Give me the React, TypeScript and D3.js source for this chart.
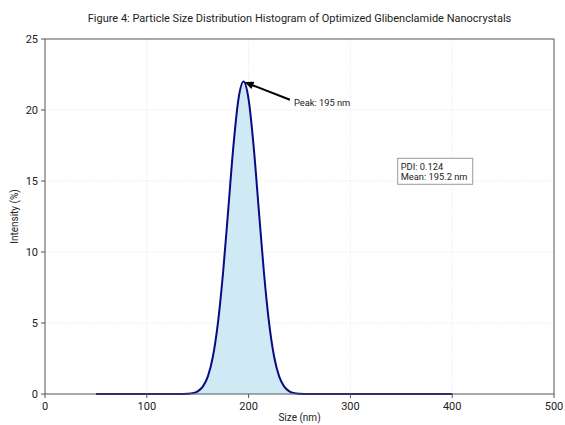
import React from "react";
import * as d3 from "d3";

const sizes = [50, 100, 130, 135, 140, 145, 150, 155, 160, 165, 170, 175, 180, 185, 190, 195, 200, 205, 210, 215, 220, 225, 230, 235, 240, 245, 250, 255, 260, 290, 400];
const intensity = [0, 0, 0, 0.005, 0.02, 0.06, 0.19, 0.52, 1.24, 2.66, 5.08, 8.61, 12.98, 17.4, 20.75, 22, 20.75, 17.4, 12.98, 8.61, 5.08, 2.66, 1.24, 0.52, 0.19, 0.06, 0.02, 0.005, 0, 0, 0];
const xTicks = [0, 100, 200, 300, 400, 500];
const yTicks = [0, 5, 10, 15, 20, 25];
const title = "Figure 4: Particle Size Distribution Histogram of Optimized Glibenclamide Nanocrystals";
const peakX = 195;
const peakY = 22;
const statsLines = ["PDI: 0.124", "Mean: 195.2 nm"];

const W = 565, H = 425;
const m = { left: 45, right: 11, top: 39, bottom: 31 };
const font = "Roboto, 'Open Sans', sans-serif";

export default function App() {
  const x = d3.scaleLinear().domain([0, 500]).range([m.left, W - m.right]);
  const y = d3.scaleLinear().domain([0, 25]).range([H - m.bottom, m.top]);
  const pts = sizes.map((s, i) => [s, intensity[i]] as [number, number]);
  const line = d3.line<[number, number]>().x(d => x(d[0])).y(d => y(d[1])).curve(d3.curveMonotoneX);
  const area = d3.area<[number, number]>().x(d => x(d[0])).y0(y(0)).y1(d => y(d[1])).curve(d3.curveMonotoneX);
  const axisColor = "#555";
  const tx = x(244.5), ty = y(20.3);
  const ax0 = tx - 4, ay0 = ty - 6;
  const ax1 = x(peakX) + 1, ay1 = y(peakY) + 0.5;
  const ang = Math.atan2(ay1 - ay0, ax1 - ax0);
  const hl = 9, hw = 4;
  const bx = x(346.5), byTop = y(16.6);
  return (
    <svg width={W} height={H} style={{ position: "absolute", left: 0, top: 0 }} fontFamily={font}>
      <rect width={W} height={H} fill="#fff" />
      <text x={(m.left + W - m.right) / 2} y={22} textAnchor="middle" fontSize={11} fill="#222">{title}</text>
      {xTicks.slice(1, -1).map(t => (
        <line key={"gx" + t} x1={x(t)} x2={x(t)} y1={m.top} y2={H - m.bottom} stroke="#ddd" strokeWidth={0.6} strokeDasharray="1.5,1.5" />
      ))}
      {yTicks.slice(1, -1).map(t => (
        <line key={"gy" + t} x1={m.left} x2={W - m.right} y1={y(t)} y2={y(t)} stroke="#ddd" strokeWidth={0.6} strokeDasharray="1.5,1.5" />
      ))}
      <path d={area(pts) || ""} fill="#cfe9f5" />
      <path d={line(pts) || ""} fill="none" stroke="#0a0a85" strokeWidth={2} />
      <rect x={m.left} y={m.top} width={W - m.right - m.left} height={H - m.bottom - m.top} fill="none" stroke={axisColor} strokeWidth={1} />
      {xTicks.map(t => (
        <g key={"xt" + t}>
          <line x1={x(t)} x2={x(t)} y1={H - m.bottom} y2={H - m.bottom + 4} stroke={axisColor} />
          <text x={x(t)} y={H - m.bottom + 16} textAnchor="middle" fontSize={11} fill="#222">{t}</text>
        </g>
      ))}
      {yTicks.map(t => (
        <g key={"yt" + t}>
          <line x1={m.left - 4} x2={m.left} y1={y(t)} y2={y(t)} stroke={axisColor} />
          <text x={m.left - 7} y={y(t) + 4} textAnchor="end" fontSize={11} fill="#222">{t}</text>
        </g>
      ))}
      <text x={(m.left + W - m.right) / 2} y={H - 4} textAnchor="middle" fontSize={10} fill="#222">Size (nm)</text>
      <text transform={`translate(18,${(m.top + H - m.bottom) / 2}) rotate(-90)`} textAnchor="middle" fontSize={10} fill="#222">Intensity (%)</text>
      <line x1={ax0} y1={ay0} x2={ax1 - Math.cos(ang) * hl * 0.8} y2={ay1 - Math.sin(ang) * hl * 0.8} stroke="#000" strokeWidth={2} />
      <polygon
        points={[
          [ax1, ay1],
          [ax1 - Math.cos(ang) * hl - Math.sin(ang) * hw, ay1 - Math.sin(ang) * hl + Math.cos(ang) * hw],
          [ax1 - Math.cos(ang) * hl + Math.sin(ang) * hw, ay1 - Math.sin(ang) * hl - Math.cos(ang) * hw],
        ].map(p => p.join(",")).join(" ")}
        fill="#000"
      />
      <text x={tx} y={ty} fontSize={9.3} fill="#222">Peak: {peakX} nm</text>
      <rect x={bx} y={byTop} width={75} height={26} fill="#fff" stroke="#999" strokeWidth={1} />
      {statsLines.map((s, i) => (
        <text key={s} x={bx + 3} y={byTop + 12 + i * 10} fontSize={9.3} fill="#222">{s}</text>
      ))}
    </svg>
  );
}
